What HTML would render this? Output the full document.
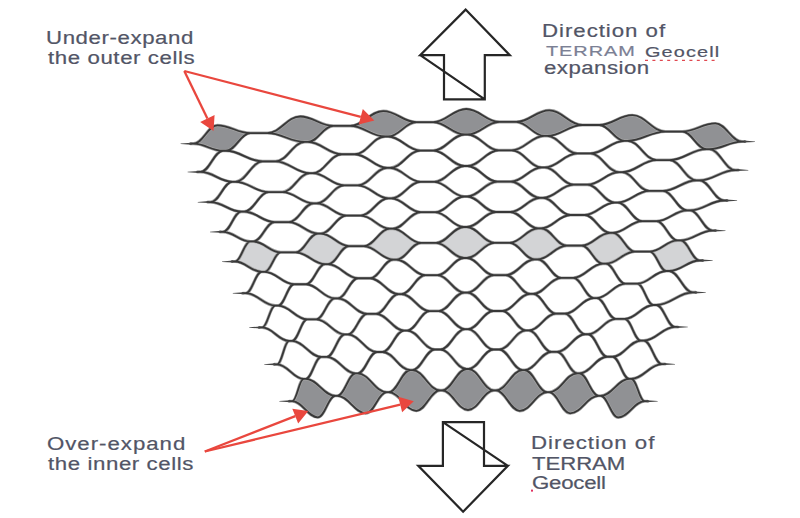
<!DOCTYPE html>
<html><head><meta charset="utf-8"><style>
html,body{margin:0;padding:0;background:#fff;}
body{width:800px;height:518px;position:relative;overflow:hidden;font-family:"Liberation Sans",sans-serif;}
svg{position:absolute;left:0;top:0;}
</style></head><body>
<svg width="800" height="518" viewBox="0 0 800 518">
<g>
<g fill="#909194" stroke="none"><path d="M217.30,125.38 C207.82,125.38 203.08,143.65 193.60,143.65 C205.35,143.65 211.22,150.77 222.96,150.77 L225.96,150.77 C235.70,150.77 240.57,133.06 250.30,133.06 C237.10,133.06 230.50,125.38 217.30,125.38 Z"/><path d="M300.30,116.49 C287.10,116.49 280.50,133.06 267.30,133.06 C282.32,133.06 289.83,141.92 304.86,141.92 L307.86,141.92 C318.03,141.92 323.12,125.91 333.30,125.91 C320.10,125.91 313.50,116.49 300.30,116.49 Z"/><path d="M383.30,111.03 C370.10,111.03 363.50,125.91 350.30,125.91 C364.25,125.91 371.22,136.50 385.16,136.50 L388.16,136.50 C399.42,136.50 405.05,122.18 416.30,122.18 C403.10,122.18 396.50,111.03 383.30,111.03 Z"/><path d="M466.30,109.00 C453.10,109.00 446.50,122.18 433.30,122.18 C445.85,122.18 452.12,134.50 464.68,134.50 L467.68,134.50 C480.32,134.50 486.65,121.88 499.30,121.88 C486.10,121.88 479.50,109.00 466.30,109.00 Z"/><path d="M549.30,110.40 C536.10,110.40 529.50,121.88 516.30,121.88 C527.45,121.88 533.03,135.93 544.19,135.93 L547.19,135.93 C561.23,135.93 568.25,125.01 582.30,125.01 C569.10,125.01 562.50,110.40 549.30,110.40 Z"/><path d="M632.30,115.22 C619.10,115.22 612.50,125.01 599.30,125.01 C609.38,125.01 614.42,140.79 624.49,140.79 L627.49,140.79 C642.62,140.79 650.18,131.56 665.30,131.56 C652.10,131.56 645.50,115.22 632.30,115.22 Z"/><path d="M715.30,123.47 C702.10,123.47 695.50,131.56 682.30,131.56 C691.93,131.56 696.75,149.08 706.39,149.08 L709.39,149.08 C722.43,149.08 728.95,141.55 742.00,141.55 C731.32,141.55 725.98,123.47 715.30,123.47 Z"/><path d="M303.72,378.97 C299.15,378.97 296.87,401.20 292.30,401.20 C302.51,401.20 307.62,417.29 317.83,417.29 L317.83,417.29 C324.84,417.29 328.35,395.81 335.35,395.81 C323.50,395.81 317.57,378.97 305.72,378.97 Z"/><path d="M355.64,373.45 C348.32,373.45 344.67,395.81 337.35,395.81 C348.76,395.81 354.47,413.23 365.87,413.23 L365.87,413.23 C374.23,413.23 378.40,392.22 386.75,392.22 C375.11,392.22 369.28,373.45 357.64,373.45 Z"/><path d="M410.37,370.12 C401.72,370.12 397.40,392.22 388.75,392.22 C399.78,392.22 405.30,410.80 416.33,410.80 L416.33,410.80 C425.82,410.80 430.56,390.42 440.04,390.42 C428.97,390.42 423.44,370.12 412.37,370.12 Z"/><path d="M466.50,369.00 C456.72,369.00 451.82,390.42 442.04,390.42 C452.42,390.42 457.62,410.00 468.00,410.00 L468.00,410.00 C478.38,410.00 483.58,390.42 493.96,390.42 C483.78,390.42 478.68,369.00 468.50,369.00 Z"/><path d="M522.63,370.08 C511.96,370.08 506.63,390.42 495.96,390.42 C505.44,390.42 510.18,410.84 519.67,410.84 L519.67,410.84 C530.70,410.84 536.22,392.22 547.25,392.22 C538.20,392.22 533.68,370.08 524.63,370.08 Z"/><path d="M577.36,373.37 C566.12,373.37 560.49,392.22 549.25,392.22 C557.60,392.22 561.77,413.30 570.13,413.30 L570.13,413.30 C581.53,413.30 587.24,395.81 598.65,395.81 C590.93,395.81 587.08,373.37 579.36,373.37 Z"/><path d="M629.28,378.86 C617.83,378.86 612.10,395.81 600.65,395.81 C607.65,395.81 611.16,417.40 618.17,417.40 L618.17,417.40 C628.78,417.40 634.09,401.20 644.70,401.20 C639.33,401.20 636.65,378.86 631.28,378.86 Z"/></g>
<g fill="#d3d4d6" stroke="none"><path d="M250.32,241.47 C244.19,241.47 241.13,261.52 235.00,261.52 C245.68,261.52 251.03,271.80 261.71,271.80 L264.71,271.80 C271.11,271.80 274.31,252.31 280.70,252.31 C269.75,252.31 264.27,241.47 253.32,241.47 Z"/><path d="M317.91,233.54 C309.03,233.54 304.58,252.31 295.70,252.31 C307.45,252.31 313.32,264.22 325.06,264.22 L328.06,264.22 C336.40,264.22 340.57,246.12 348.90,246.12 C337.70,246.12 332.11,233.54 320.91,233.54 Z"/><path d="M389.83,228.72 C379.46,228.72 374.27,246.12 363.90,246.12 C375.66,246.12 381.54,259.62 393.30,259.62 L396.30,259.62 C406.20,259.62 411.16,242.95 421.06,242.95 C409.77,242.95 404.12,228.72 392.83,228.72 Z"/><path d="M463.93,227.00 C452.78,227.00 447.21,242.95 436.06,242.95 C447.23,242.95 452.81,258.00 463.98,258.00 L466.98,258.00 C478.00,258.00 483.51,242.80 494.54,242.80 C483.49,242.80 477.97,227.00 466.93,227.00 Z"/><path d="M538.02,228.38 C526.63,228.38 520.93,242.80 509.54,242.80 C519.58,242.80 524.61,259.36 534.65,259.36 L537.65,259.36 C549.27,259.36 555.08,245.67 566.70,245.67 C556.43,245.67 551.29,228.38 541.02,228.38 Z"/><path d="M609.94,232.87 C598.64,232.87 593.00,245.67 581.70,245.67 C590.17,245.67 594.41,263.70 602.89,263.70 L605.89,263.70 C617.49,263.70 623.29,251.56 634.90,251.56 C626.12,251.56 621.72,232.87 612.94,232.87 Z"/><path d="M677.53,240.45 C666.48,240.45 660.95,251.56 649.90,251.56 C656.43,251.56 659.70,271.01 666.24,271.01 L669.24,271.01 C681.42,271.01 687.52,260.48 699.70,260.48 C692.03,260.48 688.20,240.45 680.53,240.45 Z"/></g>
<defs><path id="ed" d="M217.30,125.38 C230.50,125.38 237.10,133.06 250.30,133.06 M300.30,116.49 C313.50,116.49 320.10,125.91 333.30,125.91 M383.30,111.03 C396.50,111.03 403.10,122.18 416.30,122.18 M466.30,109.00 C479.50,109.00 486.10,121.88 499.30,121.88 M549.30,110.40 C562.50,110.40 569.10,125.01 582.30,125.01 M632.30,115.22 C645.50,115.22 652.10,131.56 665.30,131.56 M715.30,123.47 C725.98,123.47 731.32,141.55 742.00,141.55 M190.60,143.65 L193.60,143.65 M193.60,143.65 C203.08,143.65 207.82,125.38 217.30,125.38 M193.60,143.65 C205.35,143.65 211.22,150.77 222.96,150.77 M250.30,133.06 L267.30,133.06 M267.30,133.06 C280.50,133.06 287.10,116.49 300.30,116.49 M267.30,133.06 C282.32,133.06 289.83,141.92 304.86,141.92 M333.30,125.91 L350.30,125.91 M350.30,125.91 C363.50,125.91 370.10,111.03 383.30,111.03 M350.30,125.91 C364.25,125.91 371.22,136.50 385.16,136.50 M416.30,122.18 L433.30,122.18 M433.30,122.18 C446.50,122.18 453.10,109.00 466.30,109.00 M433.30,122.18 C445.85,122.18 452.12,134.50 464.68,134.50 M499.30,121.88 L516.30,121.88 M516.30,121.88 C529.50,121.88 536.10,110.40 549.30,110.40 M516.30,121.88 C527.45,121.88 533.03,135.93 544.19,135.93 M582.30,125.01 L599.30,125.01 M599.30,125.01 C612.50,125.01 619.10,115.22 632.30,115.22 M599.30,125.01 C609.38,125.01 614.42,140.79 624.49,140.79 M665.30,131.56 L682.30,131.56 M682.30,131.56 C695.50,131.56 702.10,123.47 715.30,123.47 M682.30,131.56 C691.93,131.56 696.75,149.08 706.39,149.08 M742.00,141.55 L745.00,141.55 M222.96,150.77 L225.96,150.77 M225.96,150.77 C235.70,150.77 240.57,133.06 250.30,133.06 M225.96,150.77 C240.61,150.77 247.94,161.37 262.59,161.37 M304.86,141.92 L307.86,141.92 M307.86,141.92 C318.03,141.92 323.12,125.91 333.30,125.91 M307.86,141.92 C321.42,141.92 328.20,154.25 341.76,154.25 M385.16,136.50 L388.16,136.50 M388.16,136.50 C399.42,136.50 405.05,122.18 416.30,122.18 M388.16,136.50 C401.04,136.50 407.48,150.56 420.35,150.56 M464.68,134.50 L467.68,134.50 M467.68,134.50 C480.32,134.50 486.65,121.88 499.30,121.88 M467.68,134.50 C480.10,134.50 486.32,150.30 498.75,150.30 M544.19,135.93 L547.19,135.93 M547.19,135.93 C561.23,135.93 568.25,125.01 582.30,125.01 M547.19,135.93 C559.25,135.93 565.28,153.46 577.34,153.46 M624.49,140.79 L627.49,140.79 M627.49,140.79 C642.62,140.79 650.18,131.56 665.30,131.56 M627.49,140.79 C639.10,140.79 644.90,160.06 656.51,160.06 M706.39,149.08 L709.39,149.08 M709.39,149.08 C722.43,149.08 728.95,141.55 742.00,141.55 M709.39,149.08 C719.75,149.08 724.93,170.08 735.30,170.08 M197.60,171.92 L200.60,171.92 M200.60,171.92 C209.55,171.92 214.02,150.77 222.96,150.77 M200.60,171.92 C213.32,171.92 219.68,181.79 232.40,181.79 M262.59,161.37 L275.59,161.37 M275.59,161.37 C287.30,161.37 293.15,141.92 304.86,141.92 M275.59,161.37 C289.25,161.37 296.08,173.18 309.74,173.18 M341.76,154.25 L354.76,154.25 M354.76,154.25 C366.92,154.25 373.00,136.50 385.16,136.50 M354.76,154.25 C367.69,154.25 374.15,167.92 387.08,167.92 M420.35,150.56 L433.35,150.56 M433.35,150.56 C445.88,150.56 452.15,134.50 464.68,134.50 M433.35,150.56 C445.78,150.56 452.00,166.00 464.43,166.00 M498.75,150.30 L511.75,150.30 M511.75,150.30 C524.72,150.30 531.21,135.93 544.19,135.93 M511.75,150.30 C523.76,150.30 529.76,167.43 541.77,167.43 M577.34,153.46 L590.34,153.46 M590.34,153.46 C604.00,153.46 610.83,140.79 624.49,140.79 M590.34,153.46 C601.85,153.46 607.60,172.21 619.11,172.21 M656.51,160.06 L669.51,160.06 M669.51,160.06 C684.26,160.06 691.64,149.08 706.39,149.08 M669.51,160.06 C680.29,160.06 685.68,180.33 696.45,180.33 M735.30,170.08 L738.30,170.08 M232.40,181.79 L235.40,181.79 M235.40,181.79 C246.27,181.79 251.71,161.37 262.59,161.37 M235.40,181.79 C248.73,181.79 255.39,192.07 268.72,192.07 M309.74,173.18 L312.74,173.18 M312.74,173.18 C324.35,173.18 330.15,154.25 341.76,154.25 M312.74,173.18 C325.34,173.18 331.64,185.31 344.23,185.31 M387.08,167.92 L390.08,167.92 M390.08,167.92 C402.19,167.92 408.24,150.56 420.35,150.56 M390.08,167.92 C402.30,167.92 408.41,181.82 420.63,181.82 M464.43,166.00 L467.43,166.00 M467.43,166.00 C479.95,166.00 486.22,150.30 498.75,150.30 M467.43,166.00 C479.38,166.00 485.35,181.60 497.31,181.60 M541.77,167.43 L544.77,167.43 M544.77,167.43 C557.80,167.43 564.31,153.46 577.34,153.46 M544.77,167.43 C556.34,167.43 562.13,184.64 573.70,184.64 M619.11,172.21 L622.11,172.21 M622.11,172.21 C635.87,172.21 642.75,160.06 656.51,160.06 M622.11,172.21 C632.95,172.21 638.37,190.94 649.21,190.94 M696.45,180.33 L699.45,180.33 M699.45,180.33 C713.79,180.33 720.96,170.08 735.30,170.08 M699.45,180.33 C709.31,180.33 714.24,200.51 724.10,200.51 M207.75,202.09 L210.75,202.09 M210.75,202.09 C219.41,202.09 223.74,181.79 232.40,181.79 M210.75,202.09 C222.96,202.09 229.06,211.63 241.26,211.63 M268.72,192.07 L282.39,192.07 M282.39,192.07 C293.33,192.07 298.80,173.18 309.74,173.18 M282.39,192.07 C294.90,192.07 301.16,203.36 313.67,203.36 M344.23,185.31 L357.90,185.31 M357.90,185.31 C369.57,185.31 375.41,167.92 387.08,167.92 M357.90,185.31 C370.08,185.31 376.17,198.32 388.35,198.32 M420.63,181.82 L434.29,181.82 M434.29,181.82 C446.35,181.82 452.37,166.00 464.43,166.00 M434.29,181.82 C446.25,181.82 452.22,196.50 464.18,196.50 M497.31,181.60 L510.97,181.60 M510.97,181.60 C523.29,181.60 529.45,167.43 541.77,167.43 M510.97,181.60 C522.58,181.60 528.39,197.91 540.00,197.91 M573.70,184.64 L587.37,184.64 M587.37,184.64 C600.06,184.64 606.41,172.21 619.11,172.21 M587.37,184.64 C598.29,184.64 603.76,202.54 614.68,202.54 M649.21,190.94 L662.88,190.94 M662.88,190.94 C676.31,190.94 683.02,180.33 696.45,180.33 M662.88,190.94 C672.56,190.94 677.40,210.39 687.09,210.39 M724.10,200.51 L727.10,200.51 M241.26,211.63 L244.26,211.63 M244.26,211.63 C254.05,211.63 258.94,192.07 268.72,192.07 M244.26,211.63 C256.39,211.63 262.45,222.12 274.57,222.12 M313.67,203.36 L316.67,203.36 M316.67,203.36 C327.69,203.36 333.21,185.31 344.23,185.31 M316.67,203.36 C328.57,203.36 334.52,215.56 346.43,215.56 M388.35,198.32 L391.35,198.32 M391.35,198.32 C403.06,198.32 408.92,181.82 420.63,181.82 M391.35,198.32 C403.13,198.32 409.01,212.19 420.79,212.19 M464.18,196.50 L467.18,196.50 M467.18,196.50 C479.23,196.50 485.25,181.60 497.31,181.60 M467.18,196.50 C478.70,196.50 484.46,212.00 495.98,212.00 M540.00,197.91 L543.00,197.91 M543.00,197.91 C555.28,197.91 561.42,184.64 573.70,184.64 M543.00,197.91 C553.94,197.91 559.40,215.00 570.34,215.00 M614.68,202.54 L617.68,202.54 M617.68,202.54 C630.29,202.54 636.60,190.94 649.21,190.94 M617.68,202.54 C627.49,202.54 632.39,221.18 642.20,221.18 M687.09,210.39 L690.09,210.39 M690.09,210.39 C703.69,210.39 710.49,200.51 724.10,200.51 M690.09,210.39 C699.05,210.39 703.53,230.54 712.50,230.54 M220.00,231.86 L223.00,231.86 M223.00,231.86 C230.31,231.86 233.96,211.63 241.26,211.63 M223.00,231.86 C233.93,231.86 239.39,241.47 250.32,241.47 M274.57,222.12 L288.90,222.12 M288.90,222.12 C298.81,222.12 303.76,203.36 313.67,203.36 M288.90,222.12 C300.50,222.12 306.31,233.54 317.91,233.54 M346.43,215.56 L360.76,215.56 M360.76,215.56 C371.80,215.56 377.31,198.32 388.35,198.32 M360.76,215.56 C372.39,215.56 378.20,228.72 389.83,228.72 M420.79,212.19 L435.12,212.19 M435.12,212.19 C446.74,212.19 452.55,196.50 464.18,196.50 M435.12,212.19 C446.64,212.19 452.40,227.00 463.93,227.00 M495.98,212.00 L510.31,212.00 M510.31,212.00 C522.19,212.00 528.12,197.91 540.00,197.91 M510.31,212.00 C521.40,212.00 526.94,228.38 538.02,228.38 M570.34,215.00 L584.67,215.00 M584.67,215.00 C596.68,215.00 602.68,202.54 614.68,202.54 M584.67,215.00 C594.78,215.00 599.84,232.87 609.94,232.87 M642.20,221.18 L656.53,221.18 M656.53,221.18 C668.75,221.18 674.86,210.39 687.09,210.39 M656.53,221.18 C664.93,221.18 669.13,240.45 677.53,240.45 M712.50,230.54 L715.50,230.54 M250.32,241.47 L253.32,241.47 M253.32,241.47 C261.82,241.47 266.07,222.12 274.57,222.12 M253.32,241.47 C264.27,241.47 269.75,252.31 280.70,252.31 M317.91,233.54 L320.91,233.54 M320.91,233.54 C331.11,233.54 336.22,215.56 346.43,215.56 M320.91,233.54 C332.11,233.54 337.70,246.12 348.90,246.12 M389.83,228.72 L392.83,228.72 M392.83,228.72 C404.01,228.72 409.60,212.19 420.79,212.19 M392.83,228.72 C404.12,228.72 409.77,242.95 421.06,242.95 M463.93,227.00 L466.93,227.00 M466.93,227.00 C478.55,227.00 484.36,212.00 495.98,212.00 M466.93,227.00 C477.97,227.00 483.49,242.80 494.54,242.80 M538.02,228.38 L541.02,228.38 M541.02,228.38 C552.75,228.38 558.61,215.00 570.34,215.00 M541.02,228.38 C551.29,228.38 556.43,245.67 566.70,245.67 M609.94,232.87 L612.94,232.87 M612.94,232.87 C624.64,232.87 630.50,221.18 642.20,221.18 M612.94,232.87 C621.72,232.87 626.12,251.56 634.90,251.56 M677.53,240.45 L680.53,240.45 M680.53,240.45 C693.32,240.45 699.71,230.54 712.50,230.54 M680.53,240.45 C688.20,240.45 692.03,260.48 699.70,260.48 M232.00,261.52 L235.00,261.52 M235.00,261.52 C241.13,261.52 244.19,241.47 250.32,241.47 M235.00,261.52 C245.68,261.52 251.03,271.80 261.71,271.80 M280.70,252.31 L295.70,252.31 M295.70,252.31 C304.58,252.31 309.03,233.54 317.91,233.54 M295.70,252.31 C307.45,252.31 313.32,264.22 325.06,264.22 M348.90,246.12 L363.90,246.12 M363.90,246.12 C374.27,246.12 379.46,228.72 389.83,228.72 M363.90,246.12 C375.66,246.12 381.54,259.62 393.30,259.62 M421.06,242.95 L436.06,242.95 M436.06,242.95 C447.21,242.95 452.78,227.00 463.93,227.00 M436.06,242.95 C447.23,242.95 452.81,258.00 463.98,258.00 M494.54,242.80 L509.54,242.80 M509.54,242.80 C520.93,242.80 526.63,228.38 538.02,228.38 M509.54,242.80 C519.58,242.80 524.61,259.36 534.65,259.36 M566.70,245.67 L581.70,245.67 M581.70,245.67 C593.00,245.67 598.64,232.87 609.94,232.87 M581.70,245.67 C590.17,245.67 594.41,263.70 602.89,263.70 M634.90,251.56 L649.90,251.56 M649.90,251.56 C660.95,251.56 666.48,240.45 677.53,240.45 M649.90,251.56 C656.43,251.56 659.70,271.01 666.24,271.01 M699.70,260.48 L702.70,260.48 M261.71,271.80 L264.71,271.80 M264.71,271.80 C271.11,271.80 274.31,252.31 280.70,252.31 M264.71,271.80 C276.44,271.80 282.30,284.26 294.03,284.26 M325.06,264.22 L328.06,264.22 M328.06,264.22 C336.40,264.22 340.57,246.12 348.90,246.12 M328.06,264.22 C340.05,264.22 346.04,278.27 358.03,278.27 M393.30,259.62 L396.30,259.62 M396.30,259.62 C406.20,259.62 411.16,242.95 421.06,242.95 M396.30,259.62 C407.94,259.62 413.76,275.22 425.40,275.22 M463.98,258.00 L466.98,258.00 M466.98,258.00 C478.00,258.00 483.51,242.80 494.54,242.80 M466.98,258.00 C477.74,258.00 483.13,275.11 493.90,275.11 M534.65,259.36 L537.65,259.36 M537.65,259.36 C549.27,259.36 555.08,245.67 566.70,245.67 M537.65,259.36 C547.10,259.36 551.82,277.94 561.27,277.94 M602.89,263.70 L605.89,263.70 M605.89,263.70 C617.49,263.70 623.29,251.56 634.90,251.56 M605.89,263.70 C613.64,263.70 617.52,283.70 625.27,283.70 M666.24,271.01 L669.24,271.01 M669.24,271.01 C681.42,271.01 687.52,260.48 699.70,260.48 M669.24,271.01 C678.66,271.01 683.38,292.41 692.80,292.41 M242.80,293.19 L245.80,293.19 M245.80,293.19 C252.16,293.19 255.35,271.80 261.71,271.80 M245.80,293.19 C257.59,293.19 263.48,305.55 275.27,305.55 M294.03,284.26 L306.03,284.26 M306.03,284.26 C313.64,284.26 317.45,264.22 325.06,264.22 M306.03,284.26 C317.55,284.26 323.32,298.42 334.85,298.42 M358.03,278.27 L370.03,278.27 M370.03,278.27 C379.34,278.27 383.99,259.62 393.30,259.62 M370.03,278.27 C381.44,278.27 387.14,294.10 398.55,294.10 M425.40,275.22 L437.40,275.22 M437.40,275.22 C448.03,275.22 453.35,258.00 463.98,258.00 M437.40,275.22 C448.17,275.22 453.56,292.60 464.32,292.60 M493.90,275.11 L505.90,275.11 M505.90,275.11 C517.40,275.11 523.15,259.36 534.65,259.36 M505.90,275.11 C515.58,275.11 520.42,293.91 530.10,293.91 M561.27,277.94 L573.27,277.94 M573.27,277.94 C585.12,277.94 591.04,263.70 602.89,263.70 M573.27,277.94 C581.49,277.94 585.59,298.05 593.80,298.05 M625.27,283.70 L637.27,283.70 M637.27,283.70 C648.86,283.70 654.65,271.01 666.24,271.01 M637.27,283.70 C643.72,283.70 646.94,304.99 653.38,304.99 M692.80,292.41 L695.80,292.41 M275.27,305.55 L278.27,305.55 M278.27,305.55 C284.57,305.55 287.72,284.26 294.03,284.26 M278.27,305.55 C289.87,305.55 295.67,319.31 307.28,319.31 M334.85,298.42 L337.85,298.42 M337.85,298.42 C345.92,298.42 349.95,278.27 358.03,278.27 M337.85,298.42 C349.54,298.42 355.38,313.84 367.08,313.84 M398.55,294.10 L401.55,294.10 M401.55,294.10 C411.09,294.10 415.86,275.22 425.40,275.22 M401.55,294.10 C412.82,294.10 418.45,311.07 429.71,311.07 M464.32,292.60 L467.32,292.60 M467.32,292.60 C477.95,292.60 483.27,275.11 493.90,275.11 M467.32,292.60 C477.71,292.60 482.90,311.00 493.29,311.00 M530.10,293.91 L533.10,293.91 M533.10,293.91 C544.37,293.91 550.00,277.94 561.27,277.94 M533.10,293.91 C542.23,293.91 546.79,313.62 555.92,313.62 M593.80,298.05 L596.80,298.05 M596.80,298.05 C608.19,298.05 613.89,283.70 625.27,283.70 M596.80,298.05 C604.37,298.05 608.16,318.93 615.72,318.93 M653.38,304.99 L656.38,304.99 M656.38,304.99 C670.95,304.99 678.23,292.41 692.80,292.41 M656.38,304.99 C663.75,304.99 667.43,326.94 674.80,326.94 M259.20,327.46 L262.20,327.46 M262.20,327.46 C267.43,327.46 270.04,305.55 275.27,305.55 M262.20,327.46 C272.96,327.46 278.34,340.94 289.10,340.94 M307.28,319.31 L316.28,319.31 M316.28,319.31 C323.70,319.31 327.42,298.42 334.85,298.42 M316.28,319.31 C327.71,319.31 333.43,334.46 344.87,334.46 M367.08,313.84 L376.08,313.84 M376.08,313.84 C385.07,313.84 389.56,294.10 398.55,294.10 M376.08,313.84 C387.28,313.84 392.88,330.54 404.07,330.54 M429.71,311.07 L438.71,311.07 M438.71,311.07 C448.96,311.07 454.08,292.60 464.32,292.60 M438.71,311.07 C449.23,311.07 454.48,329.20 465.00,329.20 M493.29,311.00 L502.29,311.00 M502.29,311.00 C513.41,311.00 518.97,293.91 530.10,293.91 M502.29,311.00 C511.74,311.00 516.47,330.43 525.93,330.43 M555.92,313.62 L564.92,313.62 M564.92,313.62 C576.48,313.62 582.25,298.05 593.80,298.05 M564.92,313.62 C573.01,313.62 577.05,334.23 585.13,334.23 M615.72,318.93 L624.72,318.93 M624.72,318.93 C636.19,318.93 641.92,304.99 653.38,304.99 M624.72,318.93 C631.19,318.93 634.43,340.60 640.90,340.60 M674.80,326.94 L677.80,326.94 M289.10,340.94 L292.10,340.94 M292.10,340.94 C298.17,340.94 301.21,319.31 307.28,319.31 M292.10,340.94 C303.80,340.94 309.65,356.95 321.35,356.95 M344.87,334.46 L347.87,334.46 M347.87,334.46 C355.55,334.46 359.39,313.84 367.08,313.84 M347.87,334.46 C359.50,334.46 365.32,352.01 376.95,352.01 M404.07,330.54 L407.07,330.54 M407.07,330.54 C416.13,330.54 420.66,311.07 429.71,311.07 M407.07,330.54 C418.20,330.54 423.76,349.52 434.89,349.52 M465.00,329.20 L468.00,329.20 M468.00,329.20 C478.12,329.20 483.17,311.00 493.29,311.00 M468.00,329.20 C478.24,329.20 483.37,349.49 493.61,349.49 M525.93,330.43 L528.93,330.43 M528.93,330.43 C539.72,330.43 545.12,313.62 555.92,313.62 M528.93,330.43 C537.97,330.43 542.50,351.90 551.55,351.90 M585.13,334.23 L588.13,334.23 M588.13,334.23 C599.17,334.23 604.69,318.93 615.72,318.93 M588.13,334.23 C595.74,334.23 599.54,356.76 607.15,356.76 M640.90,340.60 L643.90,340.60 M643.90,340.60 C656.26,340.60 662.44,326.94 674.80,326.94 M643.90,340.60 C651.14,340.60 654.76,364.07 662.00,364.07 M274.20,364.33 L277.20,364.33 M277.20,364.33 C281.96,364.33 284.34,340.94 289.10,340.94 M277.20,364.33 C287.81,364.33 293.11,378.97 303.72,378.97 M321.35,356.95 L326.85,356.95 M326.85,356.95 C334.06,356.95 337.66,334.46 344.87,334.46 M326.85,356.95 C338.37,356.95 344.12,373.45 355.64,373.45 M376.95,352.01 L382.45,352.01 M382.45,352.01 C391.10,352.01 395.43,330.54 404.07,330.54 M382.45,352.01 C393.62,352.01 399.20,370.12 410.37,370.12 M434.89,349.52 L440.39,349.52 M440.39,349.52 C450.23,349.52 455.16,329.20 465.00,329.20 M440.39,349.52 C450.83,349.52 456.06,369.00 466.50,369.00 M493.61,349.49 L499.11,349.49 M499.11,349.49 C509.84,349.49 515.20,330.43 525.93,330.43 M499.11,349.49 C508.52,349.49 513.22,370.08 522.63,370.08 M551.55,351.90 L557.05,351.90 M557.05,351.90 C568.28,351.90 573.90,334.23 585.13,334.23 M557.05,351.90 C565.17,351.90 569.24,373.37 577.36,373.37 M607.15,356.76 L612.65,356.76 M612.65,356.76 C623.95,356.76 629.60,340.60 640.90,340.60 M612.65,356.76 C619.30,356.76 622.63,378.86 629.28,378.86 M662.00,364.07 L665.00,364.07 M303.72,378.97 L305.72,378.97 M305.72,378.97 C311.97,378.97 315.10,356.95 321.35,356.95 M305.72,378.97 C317.57,378.97 323.50,395.81 335.35,395.81 M355.64,373.45 L357.64,373.45 M357.64,373.45 C365.36,373.45 369.23,352.01 376.95,352.01 M357.64,373.45 C369.28,373.45 375.11,392.22 386.75,392.22 M410.37,370.12 L412.37,370.12 M412.37,370.12 C421.38,370.12 425.88,349.52 434.89,349.52 M412.37,370.12 C423.44,370.12 428.97,390.42 440.04,390.42 M466.50,369.00 L468.50,369.00 M468.50,369.00 C478.54,369.00 483.57,349.49 493.61,349.49 M468.50,369.00 C478.68,369.00 483.78,390.42 493.96,390.42 M522.63,370.08 L524.63,370.08 M524.63,370.08 C535.40,370.08 540.78,351.90 551.55,351.90 M524.63,370.08 C533.68,370.08 538.20,392.22 547.25,392.22 M577.36,373.37 L579.36,373.37 M579.36,373.37 C590.48,373.37 596.03,356.76 607.15,356.76 M579.36,373.37 C587.08,373.37 590.93,395.81 598.65,395.81 M629.28,378.86 L631.28,378.86 M631.28,378.86 C643.57,378.86 649.71,364.07 662.00,364.07 M631.28,378.86 C636.65,378.86 639.33,401.20 644.70,401.20 M289.30,401.20 L292.30,401.20 M292.30,401.20 C296.87,401.20 299.15,378.97 303.72,378.97 M292.30,401.20 C302.51,401.20 307.62,417.29 317.83,417.29 M335.35,395.81 L337.35,395.81 M337.35,395.81 C344.67,395.81 348.32,373.45 355.64,373.45 M337.35,395.81 C348.76,395.81 354.47,413.23 365.87,413.23 M386.75,392.22 L388.75,392.22 M388.75,392.22 C397.40,392.22 401.72,370.12 410.37,370.12 M388.75,392.22 C399.78,392.22 405.30,410.80 416.33,410.80 M440.04,390.42 L442.04,390.42 M442.04,390.42 C451.82,390.42 456.72,369.00 466.50,369.00 M442.04,390.42 C452.42,390.42 457.62,410.00 468.00,410.00 M493.96,390.42 L495.96,390.42 M495.96,390.42 C506.63,390.42 511.96,370.08 522.63,370.08 M495.96,390.42 C505.44,390.42 510.18,410.84 519.67,410.84 M547.25,392.22 L549.25,392.22 M549.25,392.22 C560.49,392.22 566.12,373.37 577.36,373.37 M549.25,392.22 C557.60,392.22 561.77,413.30 570.13,413.30 M598.65,395.81 L600.65,395.81 M600.65,395.81 C612.10,395.81 617.83,378.86 629.28,378.86 M600.65,395.81 C607.65,395.81 611.16,417.40 618.17,417.40 M644.70,401.20 L647.70,401.20 M317.83,417.29 C324.84,417.29 328.35,395.81 335.35,395.81 M365.87,413.23 C374.23,413.23 378.40,392.22 386.75,392.22 M416.33,410.80 C425.82,410.80 430.56,390.42 440.04,390.42 M468.00,410.00 C478.38,410.00 483.58,390.42 493.96,390.42 M519.67,410.84 C530.70,410.84 536.22,392.22 547.25,392.22 M570.13,413.30 C581.53,413.30 587.24,395.81 598.65,395.81 M618.17,417.40 C628.78,417.40 634.09,401.20 644.70,401.20"/></defs>
<g fill="none" stroke-linecap="round" stroke-linejoin="round"><use href="#ed" stroke="#a4a4a4" stroke-width="3.1"/><use href="#ed" stroke="#383838" stroke-width="1.8"/></g>
<path fill="#464646" d="M191.60,142.65 L180.60,143.50 L180.60,144.00 L191.60,144.65 Z M744.00,140.55 L755.00,141.40 L755.00,141.90 L744.00,142.55 Z M198.60,170.92 L187.60,171.77 L187.60,172.27 L198.60,172.92 Z M737.30,169.08 L748.30,169.93 L748.30,170.43 L737.30,171.08 Z M208.75,201.09 L197.75,201.94 L197.75,202.44 L208.75,203.09 Z M726.10,199.51 L737.10,200.36 L737.10,200.86 L726.10,201.51 Z M221.00,230.86 L210.00,231.71 L210.00,232.21 L221.00,232.86 Z M714.50,229.54 L725.50,230.39 L725.50,230.89 L714.50,231.54 Z M233.00,260.52 L222.00,261.38 L222.00,261.88 L233.00,262.52 Z M701.70,259.48 L712.70,260.33 L712.70,260.83 L701.70,261.48 Z M243.80,292.19 L232.80,293.04 L232.80,293.54 L243.80,294.19 Z M694.80,291.41 L705.80,292.26 L705.80,292.76 L694.80,293.41 Z M260.20,326.46 L249.20,327.31 L249.20,327.81 L260.20,328.46 Z M676.80,325.94 L687.80,326.79 L687.80,327.29 L676.80,327.94 Z M275.20,363.33 L264.20,364.18 L264.20,364.68 L275.20,365.33 Z M664.00,363.07 L675.00,363.92 L675.00,364.42 L664.00,365.07 Z M290.30,400.20 L279.30,401.05 L279.30,401.55 L290.30,402.20 Z M646.70,400.20 L657.70,401.05 L657.70,401.55 L646.70,402.20 Z"/>
<path d="M465.6,9.6 L509.8,55.2 L484.8,55.2 L484.8,99.4 L444,99.4 L444,55.2 L420.2,55.2 Z M420.2,55.2 L484.8,99.4" fill="none" stroke="#262626" stroke-width="2.2" stroke-linejoin="miter"/>
<path d="M442.9,422.1 L484,422.1 L484,465.8 L507.9,465.8 L463.1,511.7 L418.3,465.8 L442.9,465.8 Z M442.9,422.1 L507.9,465.8" fill="none" stroke="#262626" stroke-width="2.2" stroke-linejoin="miter"/>
<g stroke="#e9473e" fill="#e9473e" stroke-width="2.3"><line x1="184.3" y1="71.0" x2="207.4" y2="118.4"/><path d="M213.5,131.0 L200.2,121.9 L214.6,114.9 Z" stroke="none"/><line x1="184.3" y1="71.0" x2="360.8" y2="116.9"/><path d="M374.3,120.4 L358.7,124.6 L362.8,109.1 Z" stroke="none"/><line x1="204.8" y1="451.5" x2="295.3" y2="416.1"/><path d="M308.3,411.0 L298.2,423.6 L292.3,408.7 Z" stroke="none"/><line x1="204.8" y1="451.5" x2="400.2" y2="404.6"/><path d="M413.8,401.3 L402.1,412.3 L398.3,396.8 Z" stroke="none"/></g>
<path d="M645,60.4 L716,60.4" stroke="#e04850" stroke-width="1.4" stroke-dasharray="3,4.4"/>
<rect x="531" y="489.6" width="2" height="2" fill="#e03060"/>
</g>
</svg>
<div style="position:absolute;left:45.91px;top:27.78px;font-size:17.5px;line-height:20.1px;letter-spacing:0.466px;transform:scaleX(1.2700);transform-origin:0 0;white-space:nowrap;color:#525566;-webkit-text-stroke:0.2px #525566;">Under-expand</div>
<div style="position:absolute;left:47.50px;top:48.44px;font-size:17.5px;line-height:20.1px;letter-spacing:0.469px;transform:scaleX(1.2700);transform-origin:0 0;white-space:nowrap;color:#525566;-webkit-text-stroke:0.2px #525566;">the outer cells</div>
<div style="position:absolute;left:541.97px;top:20.84px;font-size:17.5px;line-height:20.1px;letter-spacing:0.765px;transform:scaleX(1.2700);transform-origin:0 0;white-space:nowrap;color:#525566;-webkit-text-stroke:0.2px #525566;">Direction of</div>
<div style="position:absolute;left:546.39px;top:41.75px;font-size:15.3px;line-height:17.6px;letter-spacing:0.732px;transform:scaleX(1.3000);transform-origin:0 0;white-space:nowrap;color:#7b8094;-webkit-text-stroke:0.2px #7b8094;">TERRAM</div>
<div style="position:absolute;left:644.85px;top:42.55px;font-size:15.3px;line-height:17.6px;letter-spacing:0.866px;transform:scaleX(1.3000);transform-origin:0 0;white-space:nowrap;color:#525566;-webkit-text-stroke:0.2px #525566;">Geocell</div>
<div style="position:absolute;left:543.99px;top:57.86px;font-size:17.5px;line-height:20.1px;letter-spacing:0.371px;transform:scaleX(1.2700);transform-origin:0 0;white-space:nowrap;color:#525566;-webkit-text-stroke:0.2px #525566;">expansion</div>
<div style="position:absolute;left:46.99px;top:433.56px;font-size:17.5px;line-height:20.1px;letter-spacing:0.772px;transform:scaleX(1.2700);transform-origin:0 0;white-space:nowrap;color:#525566;-webkit-text-stroke:0.2px #525566;">Over-expand</div>
<div style="position:absolute;left:48.00px;top:453.76px;font-size:17.5px;line-height:20.1px;letter-spacing:0.469px;transform:scaleX(1.2700);transform-origin:0 0;white-space:nowrap;color:#525566;-webkit-text-stroke:0.2px #525566;">the inner cells</div>
<div style="position:absolute;left:530.78px;top:433.40px;font-size:17.5px;line-height:20.1px;letter-spacing:0.785px;transform:scaleX(1.2700);transform-origin:0 0;white-space:nowrap;color:#525566;-webkit-text-stroke:0.2px #525566;">Direction of</div>
<div style="position:absolute;left:531.90px;top:454.48px;font-size:17.5px;line-height:20.1px;letter-spacing:-0.076px;transform:scaleX(1.2700);transform-origin:0 0;white-space:nowrap;color:#525566;-webkit-text-stroke:0.2px #525566;">TERRAM</div>
<div style="position:absolute;left:531.83px;top:472.68px;font-size:17.5px;line-height:20.1px;letter-spacing:-0.184px;transform:scaleX(1.2700);transform-origin:0 0;white-space:nowrap;color:#525566;-webkit-text-stroke:0.2px #525566;">Geocell</div>
</body></html>
